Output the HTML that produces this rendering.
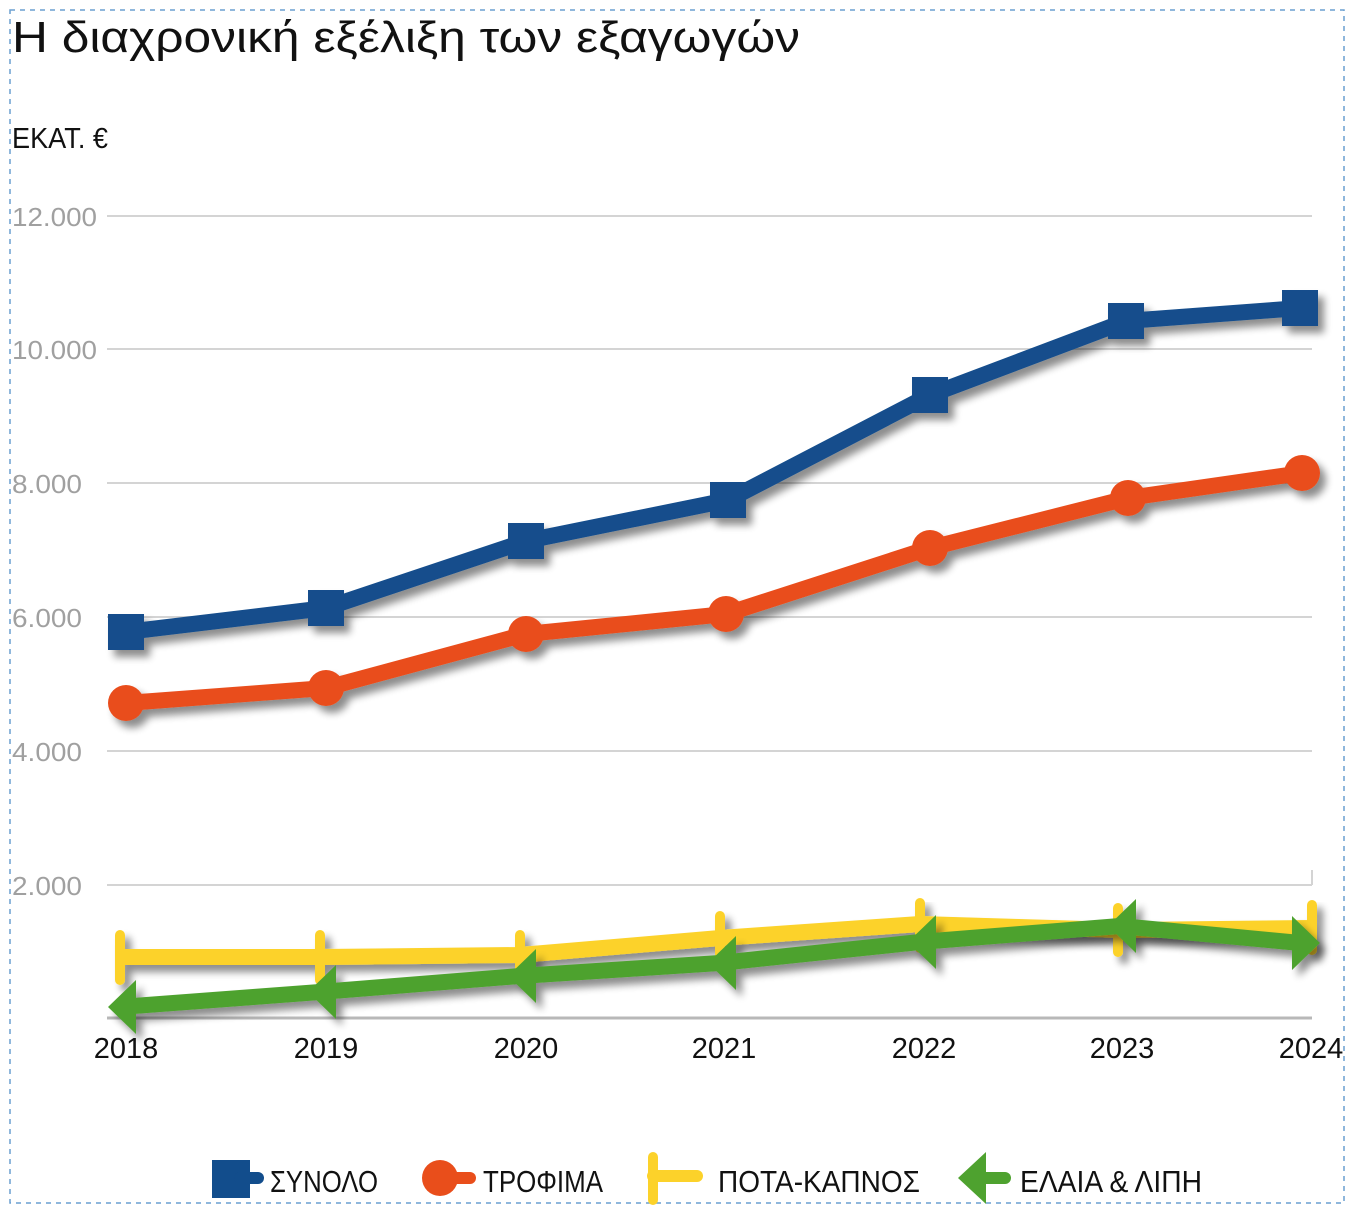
<!DOCTYPE html>
<html><head><meta charset="utf-8"><style>
html,body{margin:0;padding:0;background:#fff;}
svg{display:block;}
text{font-family:"Liberation Sans Narrow","Liberation Sans","DejaVu Sans",sans-serif;}
</style></head><body>
<svg width="1355" height="1215" viewBox="0 0 1355 1215" xmlns="http://www.w3.org/2000/svg">
<defs>
<filter id="sh" x="-10%" y="-10%" width="130%" height="140%">
<feGaussianBlur in="SourceAlpha" stdDeviation="4"/>
<feOffset dx="6" dy="7"/>
<feComponentTransfer><feFuncA type="linear" slope="0.45"/></feComponentTransfer>
<feMerge><feMergeNode/><feMergeNode in="SourceGraphic"/></feMerge>
</filter>
</defs>
<rect x="10" y="10" width="1334" height="1193" fill="none" stroke="#6a9fd0" stroke-width="1.5" stroke-dasharray="5,5"/>
<text x="12" y="52" font-size="44" fill="#111" textLength="788" lengthAdjust="spacingAndGlyphs" style="font-family:'Liberation Sans','DejaVu Sans',sans-serif">Η διαχρονική εξέλιξη των εξαγωγών</text>
<text x="12" y="148" font-size="29" fill="#111" textLength="96" lengthAdjust="spacingAndGlyphs">ΕΚΑΤ. €</text>
<g stroke="#d4d4d4" stroke-width="2">
<line x1="107" y1="216" x2="1312" y2="216"/>
<line x1="107" y1="349" x2="1312" y2="349"/>
<line x1="107" y1="483" x2="1312" y2="483"/>
<line x1="107" y1="617" x2="1312" y2="617"/>
<line x1="107" y1="751" x2="1312" y2="751"/>
<line x1="107" y1="885" x2="1312" y2="885"/>
<line x1="1312" y1="870" x2="1312" y2="885"/>
</g>
<line x1="107" y1="1018" x2="1312" y2="1018" stroke="#b8b8b8" stroke-width="3"/>
<g fill="#a0a0a0" font-size="26">
<text x="12" y="226" textLength="85" lengthAdjust="spacingAndGlyphs">12.000</text>
<text x="12" y="359" textLength="85" lengthAdjust="spacingAndGlyphs">10.000</text>
<text x="12" y="493" textLength="70" lengthAdjust="spacingAndGlyphs">8.000</text>
<text x="12" y="627" textLength="70" lengthAdjust="spacingAndGlyphs">6.000</text>
<text x="12" y="761" textLength="70" lengthAdjust="spacingAndGlyphs">4.000</text>
<text x="12" y="895" textLength="70" lengthAdjust="spacingAndGlyphs">2.000</text>
</g>
<g fill="#111" font-size="29" text-anchor="middle">
<text x="126" y="1058">2018</text><text x="326" y="1058">2019</text><text x="526" y="1058">2020</text>
<text x="724" y="1058">2021</text><text x="924" y="1058">2022</text><text x="1122" y="1058">2023</text><text x="1311" y="1058">2024</text>
</g>
<!-- yellow -->
<g filter="url(#sh)">
<polyline points="120,957 320,957 520,955 720,938 920,924 1120,930 1312,928" fill="none" stroke="#fcd22a" stroke-width="16" stroke-linejoin="round"/>
<g stroke="#fcd22a" stroke-width="10" stroke-linecap="round">
<line x1="120" y1="935" x2="120" y2="980"/><line x1="320" y1="935" x2="320" y2="980"/><line x1="520" y1="935" x2="520" y2="978"/>
<line x1="720" y1="916" x2="720" y2="960"/><line x1="920" y1="903" x2="920" y2="948"/><line x1="1118" y1="908" x2="1118" y2="952"/><line x1="1312" y1="905" x2="1312" y2="950"/>
</g>
</g>
<!-- green -->
<g filter="url(#sh)" fill="#4ea22f">
<polyline points="120,1007 320,992 520,976 720,963 920,942 1120,926 1300,943" fill="none" stroke="#4ea22f" stroke-width="16" stroke-linejoin="round"/>
<polygon points="108,1007 136,980 136,1034"/>
<polygon points="308,992 336,965 336,1019"/>
<polygon points="508,976 536,949 536,1003"/>
<polygon points="708,963 736,936 736,990"/>
<polygon points="908,942 936,915 936,969"/>
<polygon points="1108,926 1136,899 1136,953"/>
<polygon points="1320,943 1292,916 1292,970"/>
</g>
<!-- orange -->
<g filter="url(#sh)" fill="#e94e1b">
<polyline points="126,703 326,688 526,634 726,614 930,548 1128,498 1302,473" fill="none" stroke="#e94e1b" stroke-width="16" stroke-linejoin="round"/>
<circle cx="126" cy="703" r="18"/><circle cx="326" cy="688" r="18"/><circle cx="526" cy="634" r="18"/><circle cx="726" cy="614" r="18"/>
<circle cx="930" cy="548" r="18"/><circle cx="1128" cy="498" r="18"/><circle cx="1302" cy="473" r="18"/>
</g>
<!-- blue -->
<g filter="url(#sh)" fill="#124d8c">
<polyline points="126,632 326,608 526,541 728,500 930,395 1126,321 1300,308" fill="none" stroke="#124d8c" stroke-width="16" stroke-linejoin="round"/>
<rect x="108" y="614" width="36" height="36"/><rect x="308" y="590" width="36" height="36"/><rect x="508" y="523" width="36" height="36"/>
<rect x="710" y="482" width="36" height="36"/><rect x="912" y="377" width="36" height="36"/><rect x="1108" y="303" width="36" height="36"/><rect x="1282" y="290" width="36" height="36"/>
</g>
<!-- legend -->
<rect x="212" y="1160" width="38" height="38" fill="#124d8c"/>
<line x1="240" y1="1178" x2="258" y2="1178" stroke="#124d8c" stroke-width="12" stroke-linecap="round"/>
<text x="270" y="1192" font-size="31" fill="#111" textLength="108" lengthAdjust="spacingAndGlyphs">ΣΥΝΟΛΟ</text>
<circle cx="440" cy="1178" r="18" fill="#e94e1b"/>
<line x1="440" y1="1178" x2="470" y2="1178" stroke="#e94e1b" stroke-width="12" stroke-linecap="round"/>
<text x="483" y="1192" font-size="31" fill="#111" textLength="120" lengthAdjust="spacingAndGlyphs">ΤΡΟΦΙΜΑ</text>
<line x1="653" y1="1157" x2="653" y2="1200" stroke="#fcd22a" stroke-width="10" stroke-linecap="round"/>
<line x1="653" y1="1176" x2="697" y2="1176" stroke="#fcd22a" stroke-width="12" stroke-linecap="round"/>
<text x="718" y="1192" font-size="31" fill="#111" textLength="202" lengthAdjust="spacingAndGlyphs">ΠΟΤΑ-ΚΑΠΝΟΣ</text>
<polygon points="958,1178 986,1152 986,1204" fill="#4ea22f"/>
<line x1="984" y1="1178" x2="1005" y2="1178" stroke="#4ea22f" stroke-width="12" stroke-linecap="round"/>
<text x="1020" y="1192" font-size="31" fill="#111" textLength="182" lengthAdjust="spacingAndGlyphs">ΕΛΑΙΑ &amp; ΛΙΠΗ</text>
</svg>
</body></html>
